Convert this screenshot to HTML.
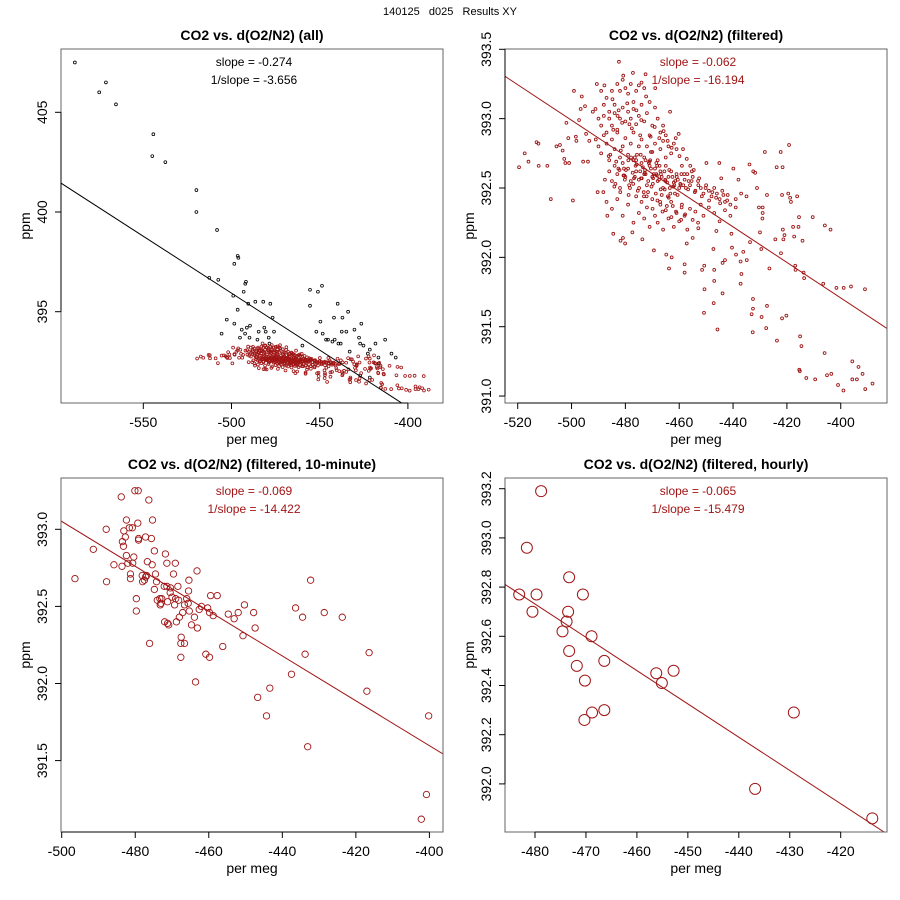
<!DOCTYPE html>
<html><head><meta charset="utf-8"><style>
body{margin:0;background:#fff}
svg{display:block;font-family:"Liberation Sans",Arial,sans-serif}
</style></head><body>
<svg id="chart" width="900" height="900" viewBox="0 0 900 900" xmlns="http://www.w3.org/2000/svg">
<text x="450" y="15" font-size="11" text-anchor="middle" fill="#000" style="white-space:pre" xml:space="preserve">140125   d025   Results XY</text>
</svg>
<script>
// ---------- Data ----------
// Filtered data (shown in panel 2, red points in panel 1)
const filtX = [-519.5,-517.4,-516,-513,-512.3,-512.2,-509,-507.7,-505.6,-504.3,-503.3,-502.7,-501.9,-502.3,-500.9,-501.2,-499.5,-499.1,-498.4,-498.2,-497.2,-496.6,-496.2,-495.7,-495,-494.6,-493.9,-493.4,-492.1,-491.1,-490.6,-490.3,-488.2,-487.8,-486.7,-484.5,-481.8,-480.9,-480.1,-482.4,-480.8,-477.2,-472.5,-468.9,-463.4,-460.2,-477.4,-473.7,-469.4,-464.8,-463.8,-462.8,-458,-458,-457.2,-455,-452.9,-451.5,-450.7,-450.6,-450.8,-449.9,-447.3,-447,-447,-447.2,-446.2,-445.8,-445.1,-444.4,-443.9,-443.9,-443,-440.6,-440.4,-439.9,-438.9,-438,-437.2,-437.2,-436.9,-436.2,-434.9,-433.9,-433.7,-433.1,-432.7,-432.6,-432.6,-432.5,-431.8,-431.1,-430.4,-430,-429.5,-429.4,-429,-429,-429.1,-428.2,-427.7,-427.4,-427.4,-426.5,-424.3,-423.8,-423.7,-422.3,-422.2,-421.8,-421.6,-421.8,-421.5,-421.3,-420.9,-420.2,-419.2,-419.5,-418.8,-418.5,-417.7,-417.3,-416.9,-416.8,-416.2,-415.7,-415.5,-415.4,-415.2,-415.1,-414.6,-414.2,-413.8,-413.6,-412.8,-410.4,-409.5,-406.5,-406,-405.9,-405.1,-403.8,-403.5,-401.6,-401,-399,-398.9,-396.2,-395.7,-395.7,-394,-393.4,-391.9,-391,-390.9,-388.2,
-489,-488,-487,-486,-485,-484,-483,-482,-481,-480,-479,-478,-477,-476,-475,-474,-473,-490,-489,-488,-487,-486,-485,-484,-483,-482,-481,-480,-479,-478,-477,-476,-475,-474,-473,-472,-471,-470,-469,-468,-467,-466,-465,
-491,-490,-489,-488,-487,-486,-485,-484,-483,-482,-481,-480,-479,-478,-477,-476,-475,-474,-473,-472,-471,-470,-469,-468,-467,-466,-465,-464,-463,-462,-461,
-486,-485,-484,-483,-482,-481,-480,-479,-478,-477,-476,-475,-474,-473,-472,-471,-470,-469,-468,-467,-466,-465,-464,-463,-462,-461,-460,-459,-458,-457,-456,-455,-454,-453,-452,-451,-450,-449,-448,-447,-446,-445,-444,-443,-442,-441,-439,-437,-435,
-487,-485,-483,-481,-479,-477,-476,-475,-474,-473,-472,-471,-470,-469,-468,-467,-466,-465,-464,-463,-462,-461,-460,-459,-458,-457,-456,-455,-454,-453,-452,-451,-449,-447,-445,-443,-441,-439,
-476.5,-474.5,-472.5,-470.5,-468.5,-466.5,-464.5,-462.5,-460.5,-458.5,-456.5,-473.5,-471.5,-469.5,-467.5,-465.5,-463.5,-461.5,-459.5,-457.5,
-484.5,-482.5,-480.5,-478.5,-476.5,-474.5,-472.5,-470.5,-468.5,-466.5,-478.3,-475.7,-473.2,-470.8,-467.3,-464.2,-461.6,-459.2,-455.3,-452.6,
-485.6,-483.4,-481.7,-479.8,-477.9,-476.2,-474.3,-472.8,-471.1,-469.7,-468.2,-466.8,-465.1,-463.7,-462.2,-460.9,-459.6,-458.1,-456.7,-455.4,-454.2,-452.9,-451.6,-450.2,-448.9,-447.7,-446.3,-444.8,-443.6,-442.2,
-484.8,-482.9,-481.2,-479.3,-477.6,-475.9,-474.1,-472.3,-470.6,-469.1,-467.4,-465.8,-464.3,-462.8,-461.3,-459.9,-458.6,-457.2,-455.9,-454.6,
-483.7,-481.9,-480.2,-478.8,-477.1,-475.4,-473.9,-472.1,-470.3,-468.7,-467.1,-465.4,-463.9,-462.4,-460.6,-459.1,
-482.6,-480.7,-478.9,-477.3,-475.8,-474.2,-472.7,-471.3,-469.8,-468.3,-466.9,-465.2,-463.3,-461.8,
-487.6,-486.2,-484.1,-482.2,-480.4,-478.6,-476.8,-474.9,-473.1,-471.6,-469.9,-468.1,-466.2,-464.6,-462.9,-461.2,-459.3,-457.8];
const filtY = [392.65,392.75,392.69,392.83,392.82,392.66,392.66,392.42,392.8,392.81,392.77,392.71,392.97,392.68,392.68,392.86,392.41,393.2,392.87,392.84,392.99,393.07,393.16,392.69,393.09,392.89,392.69,392.84,393.05,393.07,393.25,392.47,392.47,393.24,392.3,392.17,392.12,392.14,392.1,393.41,393.31,393.33,393.32,393.22,393.05,392.89,392.18,392.13,392.05,392.02,391.92,392,391.95,391.89,392.1,392.14,392.21,391.91,391.94,391.77,391.6,392.68,392.06,391.91,391.83,391.67,392.19,391.48,392.68,392.57,391.74,391.96,391.98,392.17,392.07,392.64,392.02,392.56,391.97,391.81,391.88,392.04,391.98,392.67,392.11,391.59,391.46,391.7,391.63,392.62,392.61,392.5,392.36,392.18,392.06,391.57,392.36,392.32,392.28,392.76,391.49,392.45,391.65,391.92,392.13,392.65,391.4,392.76,392.03,391.56,392.65,392.45,392.2,392.13,392.16,391.58,392.81,392.46,392.43,392.4,392.22,392.15,391.94,391.91,392.44,392.22,392.29,391.19,391.18,391.43,391.36,392.12,391.89,391.85,391.13,392.29,391.12,391.81,391.31,392.23,391.15,392.2,391.16,391.78,391.08,391.04,391.78,391.79,391.25,391.12,391.12,391.21,391.16,391.77,391.05,391.09,
393.2,393.1,393.15,393.05,393.2,393.1,393.25,393.2,393.28,393.22,393.18,393.25,393.12,393.2,393.24,393.26,393.22,393,392.95,393.02,392.9,393,392.95,393.04,392.92,393,393.08,392.98,393.05,393,393.07,392.96,393.02,393.1,392.98,393.04,393.12,392.95,393.08,393,392.9,392.95,392.88,
392.85,392.8,392.75,392.88,392.82,392.7,392.85,392.78,392.9,392.72,392.8,392.86,392.74,392.82,392.9,392.7,392.8,392.85,392.72,392.8,392.88,392.76,392.82,392.7,392.78,392.84,392.72,392.8,392.75,392.82,392.78,
392.62,392.55,392.66,392.6,392.5,392.68,392.58,392.64,392.55,392.7,392.62,392.56,392.68,392.6,392.52,392.66,392.58,392.64,392.55,392.62,392.5,392.66,392.58,392.62,392.54,392.6,392.5,392.66,392.56,392.6,392.52,392.58,392.48,392.55,392.5,392.46,392.52,392.48,392.44,392.5,392.46,392.42,392.48,392.4,392.45,392.38,392.42,392.46,392.44,
392.4,392.35,392.42,392.3,392.38,392.25,392.44,392.32,392.4,392.28,392.36,392.22,392.42,392.3,392.25,392.38,392.2,392.34,392.28,392.4,392.22,392.32,392.26,392.38,392.3,392.2,392.35,392.27,392.33,392.25,392.38,392.3,392.36,392.32,392.26,392.34,392.3,392.36,
392.58,392.62,392.6,392.64,392.6,392.58,392.54,392.58,392.56,392.52,392.55,392.65,392.55,392.6,392.56,392.62,392.5,392.55,392.52,392.5,
392.92,393.06,392.64,392.96,392.72,392.88,392.7,392.76,392.68,392.45,392.5,392.74,392.47,392.7,392.66,392.44,392.46,392.6,392.62,392.57,
392.74,392.69,392.77,392.63,392.72,392.66,392.74,392.61,392.69,392.57,392.66,392.6,392.55,392.63,392.51,392.58,392.53,392.6,392.49,392.55,392.47,392.52,392.44,392.5,392.41,392.47,392.43,392.39,392.45,392.41,
393.14,393.02,392.97,393.11,392.93,393.06,392.99,393.16,392.87,392.94,392.86,392.91,392.84,392.79,392.86,392.73,392.78,392.71,392.66,392.63,
392.53,392.47,392.56,392.45,392.53,392.48,392.57,392.44,392.51,392.46,392.4,392.49,392.43,392.37,392.45,392.36,
392.64,392.59,392.7,392.61,392.67,392.57,392.63,392.68,392.53,392.59,392.49,392.56,392.46,392.52,
392.56,392.73,392.51,392.63,392.59,392.52,392.57,392.5,392.44,392.47,392.35,392.41,392.33,392.37,392.29,392.33,392.27,392.31];
// Unfiltered outliers (black points, panel 1)
const allX = [-588.8,-575,-571.2,-565.5,-544.3,-544.9,-537.5,-519.9,-519.9,-508.2,-496.5,-496.1,-498.4,-512.6,-507.5,-491.8,-492.2,-499,-493.1,-496.5,-490.5,-486.5,-482,-478,-476.7,-502.7,-498.4,-505.6,-494.2,-491.3,-489.5,-484.6,-481.4,-480.6,-475.9,-495.2,-492.3,-489.8,-485.3,-478.9,-478.5,-455.5,-451,-448.7,-455.5,-449.6,-451.9,-448.3,-439.8,-441.9,-437.1,-433.9,-434.9,-430.3,-426.4,-437.5,-446.4,-445.3,-442.8,-441.5,-439.4,-438.1,-427.7,-427.1,-425.2,-418.4,-412.9,-421.6,-433,-422.7,-416.7,-409.3,-406.9,-459.8,-416.7,-421.6,-427.1];
const allY = [407.5,406,406.5,405.4,403.9,402.8,402.5,401.1,400,399.1,397.8,397.7,397.4,396.7,396.6,396.5,396.4,395.8,396,395.1,395.4,395.5,395.5,395.4,394.7,394.6,394.4,393.9,394.1,394.2,394.3,394,394.2,394,394,393.7,393.9,393.7,393.6,393.7,393.4,396.1,396,396.3,395.3,394.5,394,393.9,395.4,394.7,394.7,395,394,394.1,394.4,394,393.6,393.6,393.5,393.6,393.4,393.4,393.7,393.4,393.3,393.4,393.6,393.1,393,392.9,392.7,392.9,392.7,393.3,392.4,391.7,391.8];
// 10-minute averages
const tenX = [-496.4,-491.4,-487.9,-487.8,-485.8,-483.8,-483.6,-483.5,-483.2,-483.1,-482.7,-482.4,-482.4,-482,-481.6,-481.3,-481.3,-480.8,-480.7,-480.4,-480.1,-479.7,-479.7,-479.3,-479.2,-479.1,-479.1,-478.1,-478,-477.5,-477.2,-477.2,-476.9,-476.7,-476.3,-476.1,-475.6,-475.4,-475.3,-474.8,-474.8,-474.5,-474.2,-474,-473.3,-473.2,-473,-472.8,-472.1,-472,-471.8,-471.4,-471.4,-471.2,-471.2,-470.9,-470.5,-470.4,-470,-469.6,-469.3,-469.1,-469,-468.8,-468.4,-468.2,-468,-467.6,-467.6,-467.5,-467.1,-466.6,-466.6,-466,-465.6,-465.5,-465.4,-465.3,-464.7,-463.9,-463.6,-463.2,-463.1,-462.6,-462,-460.8,-460.3,-459.8,-459.8,-459.5,-458.8,-457.7,-456.2,-454.7,-453.1,-452,-450.7,-450.3,-447.8,-447.4,-446.7,-444.3,-443.4,-437.5,-436.4,-434.5,-433.8,-433.1,-432.3,-428.6,-423.7,-417,-416.4,-402.2,-400.8,-400.2];
const tenY = [392.68,392.87,393,392.66,392.77,393.21,392.76,392.92,392.89,392.99,392.95,392.83,393.06,392.78,393.01,392.71,392.68,393.01,392.78,392.82,393.25,392.55,392.47,393.04,393.25,392.94,392.93,392.7,392.66,392.67,392.95,392.69,392.7,392.79,393.19,392.26,392.94,392.77,393.06,392.86,392.61,392.71,392.66,392.54,392.55,392.51,392.52,392.55,392.63,392.4,392.84,392.78,392.63,392.53,392.39,392.38,392.59,392.62,392.56,392.71,392.51,392.78,392.55,392.4,392.63,392.54,392.43,392.26,392.17,392.3,392.46,392.51,392.26,392.55,392.52,392.6,392.67,392.47,392.38,392.43,392.01,392.73,392.36,392.48,392.5,392.19,392.49,392.17,392.46,392.57,392.44,392.57,392.24,392.45,392.42,392.46,392.31,392.51,392.46,392.36,391.91,391.79,391.97,392.06,392.49,392.43,392.19,391.59,392.67,392.46,392.43,391.95,392.2,391.12,391.28,391.79];
// hourly averages
const hrX = [-478.8,-481.6,-483.1,-479.7,-480.5,-473.3,-473.5,-473.8,-474.6,-470.6,-468.9,-473.3,-471.8,-466.4,-470.2,-468.8,-470.3,-466.4,-456.2,-452.8,-455.1,-429.2,-436.8,-413.8];
const hrY = [393.19,392.96,392.77,392.77,392.70,392.84,392.70,392.66,392.62,392.77,392.60,392.54,392.48,392.50,392.42,392.29,392.26,392.30,392.45,392.46,392.41,392.29,391.98,391.86];
// Regression lines (endpoints in data units)
const fitAllX = [-596.7,-403.5], fitAllY = [401.45,390.42];
const fitFiltX = [-524.7,-382.9], fitFiltY = [393.305,391.488];
const fitTenX = [-500.2,-396.3], fitTenY = [393.054,391.543];
const fitHrX = [-485.9,-411.1], fitHrY = [392.811,391.799];
// tick labels
const ticks1X = [-550,-500,-450,-400], ticks1Y = [395,400,405];
const ticks2X = [-520,-500,-480,-460,-440,-420,-400], ticks2Y = ["391.0","391.5","392.0","392.5","393.0","393.5"];
const ticks3X = [-500,-480,-460,-440,-420,-400], ticks3Y = ["391.5","392.0","392.5","393.0"];
const ticks4X = [-480,-470,-460,-450,-440,-430,-420], ticks4Y = ["392.0","392.2","392.4","392.6","392.8","393.0","393.2"];

const RED = "#a01515";
const svg = document.getElementById('chart');
const NS = "http://www.w3.org/2000/svg";
function mk(tag, attrs, parent){ const e=document.createElementNS(NS,tag); for(const k in attrs) e.setAttribute(k,attrs[k]); (parent||svg).appendChild(e); return e; }

function panel(p){
  const g = mk('g',{});
  
  
  const sx = v => p.x0px + (v - p.x0v) * p.xs;
  const sy = v => p.y0px - (v - p.y0v) * p.ys;
  const cid = p.name + '-clip';
  const cp = mk('clipPath',{id:cid},g); mk('rect',{x:p.L,y:p.T,width:p.R-p.L,height:p.B-p.T},cp);
  const t = mk('text',{x:(p.L+p.R)/2,y:p.T-9,'font-size':14,'font-weight':'bold','text-anchor':'middle'},g);
  t.textContent = p.title;
  
  
  const cx = (p.L+p.R)/2 + 2;
  const s1 = mk('text',{x:cx,y:p.T+17,'font-size':12,'text-anchor':'middle',fill:p.tc},g); s1.textContent = p.s1;
  
  
  const s2 = mk('text',{x:cx,y:p.T+35,'font-size':12,'text-anchor':'middle',fill:p.tc},g); s2.textContent = p.s2;
  
  
  const pg = mk('g',{'clip-path':'url(#'+cid+')'},g);
  p.series.forEach(s=>{
    for(let i=0;i<s.x.length;i++){
      const c = mk('circle',{cx:sx(s.x[i]).toFixed(2),cy:sy(s.y[i]).toFixed(2),r:s.r,fill:'none',stroke:s.c,'stroke-width':s.w},pg);
      
      
    }
  });
  const ln = mk('line',{x1:sx(p.fx[0]),y1:sy(p.fy[0]),x2:sx(p.fx[1]),y2:sy(p.fy[1]),stroke:p.lc,'stroke-width':1,'clip-path':'url(#'+cid+')'},g);
  
  
  const bx = mk('rect',{x:p.L,y:p.T,width:p.R-p.L,height:p.B-p.T,fill:'none',stroke:'#666','stroke-width':1},g);
  
  
  const xa = mk('g',{},g);
  
  
  const xs = p.tx.map(sx);
  mk('line',{x1:xs[0],y1:p.B,x2:xs[xs.length-1],y2:p.B,stroke:'#000'},xa);
  p.tx.forEach((v,i)=>{
    mk('line',{x1:xs[i],y1:p.B,x2:xs[i],y2:p.B+6,stroke:'#000'},xa);
    const tl = mk('text',{x:xs[i],y:p.B+24,'font-size':14,'text-anchor':'middle'},xa); tl.textContent = v;
  });
  const xl = mk('text',{x:(p.L+p.R)/2,y:p.B+41,'font-size':14,'text-anchor':'middle'},g); xl.textContent='per meg';
  
  
  const ya = mk('g',{},g);
  
  
  const ys = p.ty.map(v=>sy(parseFloat(v)));
  mk('line',{x1:p.L,y1:ys[0],x2:p.L,y2:ys[ys.length-1],stroke:'#000'},ya);
  p.ty.forEach((v,i)=>{
    mk('line',{x1:p.L,y1:ys[i],x2:p.L-6,y2:ys[i],stroke:'#000'},ya);
    const tl = mk('text',{x:0,y:0,'font-size':14,'text-anchor':'middle',transform:`translate(${p.L-14},${ys[i]}) rotate(-90)`},ya); tl.textContent = v;
  });
  const yl = mk('text',{x:0,y:0,'font-size':14,'text-anchor':'middle',transform:`translate(${p.L-31},${(p.T+p.B)/2}) rotate(-90)`},g); yl.textContent='ppm';
  
  
}

panel({name:'panel-all',title:'CO2 vs. d(O2/N2) (all)',L:61,R:443,T:49,B:403,
  x0px:143.3,x0v:-550,xs:1.764,y0px:212,y0v:400,ys:19.94,
  s1:'slope = -0.274',s2:'1/slope = -3.656',tc:'#000',lc:'#000',fx:fitAllX,fy:fitAllY,
  tx:ticks1X,ty:ticks1Y,
  series:[{x:allX,y:allY,c:'#000',r:1.4,w:0.8},{x:filtX,y:filtY,c:RED,r:1.4,w:0.8}]});
panel({name:'panel-filtered',title:'CO2 vs. d(O2/N2) (filtered)',L:505,R:887,T:49,B:403,
  x0px:517.7,x0v:-520,xs:2.692,y0px:49.3,y0v:393.5,ys:138.7,
  s1:'slope = -0.062',s2:'1/slope = -16.194',tc:RED,lc:RED,fx:fitFiltX,fy:fitFiltY,
  tx:ticks2X,ty:ticks2Y,
  series:[{x:filtX,y:filtY,c:RED,r:1.4,w:0.9}]});
panel({name:'panel-10min',title:'CO2 vs. d(O2/N2) (filtered, 10-minute)',L:61,R:443,T:478,B:832,
  x0px:61.7,x0v:-500,xs:3.677,y0px:529.3,y0v:393,ys:154.2,
  s1:'slope = -0.069',s2:'1/slope = -14.422',tc:RED,lc:RED,fx:fitTenX,fy:fitTenY,
  tx:ticks3X,ty:ticks3Y,
  series:[{x:tenX,y:tenY,c:RED,r:3.2,w:0.9}]});
panel({name:'panel-hourly',title:'CO2 vs. d(O2/N2) (filtered, hourly)',L:505,R:887,T:478,B:832,
  x0px:535,x0v:-480,xs:5.095,y0px:488.7,y0v:393.2,ys:246,
  s1:'slope = -0.065',s2:'1/slope = -15.479',tc:RED,lc:RED,fx:fitHrX,fy:fitHrY,
  tx:ticks4X,ty:ticks4Y,
  series:[{x:hrX,y:hrY,c:RED,r:5.5,w:1}]});
</script>
</body></html>
